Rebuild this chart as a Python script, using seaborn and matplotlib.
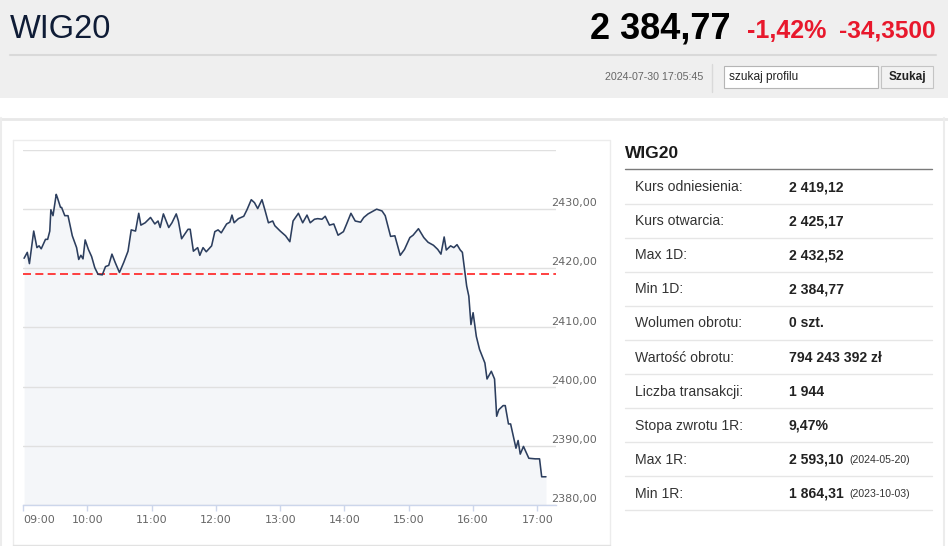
import matplotlib
matplotlib.use("Agg")
import matplotlib.pyplot as plt
import matplotlib.transforms as mtransforms
from matplotlib.patches import Rectangle
import pandas as pd
import seaborn as sns

# intraday WIG20 quotes
times = [
    "09:01", "09:04", "09:06", "09:10", "09:13", "09:15", "09:17", "09:21", "09:23", "09:25",
    "09:26", "09:28", "09:31", "09:32", "09:35", "09:36", "09:39", "09:42", "09:46", "09:50",
    "09:52", "09:54", "09:56", "09:58", "10:01", "10:04", "10:07", "10:10", "10:14", "10:17",
    "10:20", "10:23", "10:26", "10:30", "10:34", "10:38", "10:41", "10:45", "10:48", "10:50",
    "10:54", "10:59", "11:03", "11:06", "11:08", "11:11", "11:16", "11:19", "11:23", "11:25",
    "11:28", "11:34", "11:36", "11:39", "11:41", "11:43", "11:45", "11:48", "11:51", "11:56",
    "11:59", "12:02", "12:05", "12:10", "12:13", "12:15", "12:17", "12:21", "12:26", "12:29",
    "12:33", "12:36", "12:39", "12:43", "12:46", "12:49", "12:53", "12:55", "13:00", "13:05",
    "13:09", "13:12", "13:17", "13:21", "13:25", "13:28", "13:32", "13:35", "13:39", "13:42",
    "13:46", "13:50", "13:54", "13:59", "14:02", "14:06", "14:10", "14:15", "14:18", "14:22",
    "14:30", "14:35", "14:38", "14:43", "14:47", "14:52", "14:56", "15:01", "15:04", "15:09",
    "15:14", "15:18", "15:23", "15:27", "15:30", "15:33", "15:35", "15:39", "15:42", "15:45",
    "15:48", "15:50", "15:52", "15:54", "15:56", "15:58", "16:00", "16:03", "16:06", "16:11",
    "16:13", "16:17", "16:20", "16:22", "16:24", "16:28", "16:30", "16:33", "16:35", "16:40",
    "16:42", "16:44", "16:47", "16:52", "16:58", "17:02", "17:04", "17:08",
]
kurs = [
    2421.7, 2422.7, 2420.8, 2426.3, 2423.5, 2423.8, 2423.3, 2424.9, 2424.9, 2426.3,
    2429.9, 2428.9, 2432.5, 2432.0, 2430.3, 2430.3, 2428.9, 2428.9, 2425.5, 2423.5,
    2421.5, 2422.2, 2421.6, 2424.8, 2423.2, 2422.0, 2420.1, 2419.0, 2418.9, 2420.3,
    2420.5, 2422.4, 2421.0, 2419.3, 2421.0, 2422.9, 2426.5, 2426.3, 2429.3, 2427.3,
    2427.7, 2428.6, 2427.5, 2428.0, 2426.9, 2429.2, 2426.9, 2427.7, 2429.2, 2428.0,
    2425.0, 2426.6, 2426.6, 2422.9, 2423.2, 2423.5, 2422.2, 2423.5, 2422.8, 2423.8,
    2426.2, 2426.5, 2426.0, 2427.5, 2427.8, 2429.0, 2427.7, 2428.4, 2428.8, 2429.9,
    2431.6, 2431.1, 2430.1, 2431.6, 2429.7, 2427.7, 2428.0, 2427.2, 2426.3, 2425.5,
    2424.5, 2428.0, 2429.3, 2427.7, 2429.0, 2427.7, 2428.3, 2428.4, 2428.3, 2428.8,
    2427.3, 2427.5, 2425.6, 2426.2, 2427.5, 2429.3, 2428.0, 2427.8, 2428.6, 2429.2,
    2430.0, 2429.7, 2428.9, 2425.4, 2425.5, 2422.2, 2423.2, 2425.2, 2425.6, 2426.7,
    2425.2, 2424.4, 2423.9, 2423.2, 2422.4, 2425.3, 2423.1, 2423.8, 2423.5, 2424.0,
    2423.1, 2422.7, 2419.8, 2417.0, 2415.3, 2410.5, 2412.5, 2408.5, 2406.3, 2404.0,
    2401.3, 2402.6, 2401.3, 2395.0, 2396.1, 2396.8, 2396.8, 2393.7, 2393.7, 2389.6,
    2390.9, 2388.6, 2389.9, 2387.9, 2387.8, 2387.8, 2384.77, 2384.77,
]
kurs_odniesienia = 2419.12

hour_labels = ["09:00", "10:00", "11:00", "12:00", "13:00", "14:00", "15:00", "16:00", "17:00"]
y_ticks = [2380, 2390, 2400, 2410, 2420, 2430, 2440]
y_labelled = [2380, 2390, 2400, 2410, 2420, 2430]

# header
name = "WIG20"
last_price = "2 384,77"
change_pct = "-1,42%"
change_abs = "-34,3500"
timestamp = "2024-07-30 17:05:45"

# side table
row_labels = ["Kurs odniesienia:", "Kurs otwarcia:", "Max 1D:", "Min 1D:", "Wolumen obrotu:",
              "Wartość obrotu:", "Liczba transakcji:", "Stopa zwrotu 1R:", "Max 1R:", "Min 1R:"]
row_values = ["2 419,12", "2 425,17", "2 432,52", "2 384,77", "0 szt.",
              "794 243 392 zł", "1 944", "9,47%", "2 593,10", "1 864,31"]
row_notes = ["", "", "", "", "", "", "", "", "(2024-05-20)", "(2023-10-03)"]


def to_minutes(hhmm):
    h, m = hhmm.split(":")
    return (int(h) - 9) * 60 + int(m)


df = pd.DataFrame({"t": [to_minutes(t) for t in times], "kurs": kurs})

sns.set_theme(style="white")
plt.rcParams["font.family"] = ["Liberation Sans", "DejaVu Sans"]

W, H = 948, 546
fig = plt.figure(figsize=(W / 100, H / 100), dpi=100)
fig.patch.set_facecolor("white")

# page decoration in pixel coordinates
bg = fig.add_axes([0, 0, 1, 1], zorder=0)
bg.set_xlim(0, W)
bg.set_ylim(H, 0)
bg.axis("off")

bg.add_patch(Rectangle((0, 0), W, 98, color="#efefef", lw=0))
bg.plot([10, 936], [55, 55], color="#d9d9d9", lw=1.5)
bg.plot([712, 712], [64, 92], color="#d9d9d9", lw=1)

bg.text(10, 29, name, fontsize=23.5, color="#0f1c36", va="center", ha="left")
bg.text(936, 31, change_abs, fontsize=17.6, fontweight="bold", color="#e8182c",
        va="center", ha="right")
bg.text(826, 31, change_pct, fontsize=18, fontweight="bold", color="#e8182c",
        va="center", ha="right")
bg.text(731, 29, last_price, fontsize=26, fontweight="bold", color="#000000",
        va="center", ha="right")
bg.text(703, 77, timestamp, fontsize=7.7, color="#666666", va="center", ha="right")

bg.add_patch(Rectangle((724, 66), 154, 22, facecolor="white", edgecolor="#b5b5b5", lw=0.8))
bg.text(729, 77, "szukaj profilu", fontsize=8.6, color="#222222", va="center", ha="left")
bg.add_patch(Rectangle((881, 66), 52, 22, facecolor="#f2f2f2", edgecolor="#c4c4c4", lw=0.8))
bg.text(907, 77, "Szukaj", fontsize=8.5, fontweight="bold", color="#222222",
        va="center", ha="center")

# outer container and chart box
bg.plot([0, W], [118.5, 118.5], color="#e8e8e8", lw=2)
bg.plot([1, 1], [118, H], color="#ececec", lw=1.5)
bg.plot([944, 944], [118, H], color="#ececec", lw=1.5)
bg.plot([13, 610, 610], [140, 140, 545], color="#ececec", lw=1)
bg.plot([13, 13], [140, 545], color="#ececec", lw=1)
bg.plot([13, 610], [545, 545], color="#e2e2e2", lw=1)

# side table
bg.text(625, 153, name, fontsize=12.5, fontweight="bold", color="#1a1a1a",
        va="center", ha="left")
bg.plot([625, 932], [169, 169], color="#7a7a7a", lw=1)
row_h = 34.1
for i, (lab, val, note) in enumerate(zip(row_labels, row_values, row_notes)):
    yc = 187 + i * row_h
    bg.text(635, yc, lab, fontsize=10.1, color="#333333", va="center", ha="left")
    t = bg.text(789, yc, val, fontsize=10.1, fontweight="bold", color="#222222",
                va="center", ha="left")
    if note:
        bg.annotate(note, xy=(1, 0.5), xycoords=t, xytext=(4, 0), textcoords="offset points",
                    fontsize=7.6, color="#333333", va="center", ha="left")
    bg.plot([625, 932], [yc + 16.5, yc + 16.5], color="#e6e6e6", lw=1)

# chart
x0, x1, y0, y1 = 23, 556, 150, 505
ax = fig.add_axes([x0 / W, 1 - y1 / H, (x1 - x0) / W, (y1 - y0) / H], zorder=1)
ax.patch.set_visible(False)
ax.set_axisbelow(False)

ax.fill_between(df["t"], df["kurs"], y_ticks[0], color="#f4f6f9", lw=0, zorder=1)
ax.set_yticks(y_ticks)
ax.grid(axis="y", color="#e0e0e0", lw=1)
ax.grid(axis="x", visible=False)
ax.axhline(kurs_odniesienia, color="#ff2020", lw=1.2, ls=(0, (4.8, 2.6)), zorder=3)
sns.lineplot(data=df, x="t", y="kurs", ax=ax, color="#2c3e5e", lw=1.15, zorder=4)

ax.set_xlim(0, (x1 - x0) * 60 / 64.3)
ax.set_ylim(y_ticks[0], y_ticks[-1])
ax.set_xlabel("")
ax.set_ylabel("")
ax.set_xticks([60 * i for i in range(len(hour_labels))])
ax.set_xticklabels(hour_labels)
ax.tick_params(axis="x", direction="out", length=4.5, width=1, color="#ccd6eb",
               labelsize=8, labelcolor="#666666", pad=2.5, bottom=True)
for lab in ax.get_xticklabels():
    lab.set_fontfamily("DejaVu Sans")
ax.xaxis.get_major_ticks()[0].label1.set_horizontalalignment("left")
ax.tick_params(axis="y", left=False, right=False, labelleft=False, labelright=False)
for side in ["left", "right", "top"]:
    ax.spines[side].set_visible(False)
ax.spines["bottom"].set_color("#ccd6eb")
ax.spines["bottom"].set_linewidth(1)
ax.spines["bottom"].set_zorder(2.6)

trans = mtransforms.blended_transform_factory(ax.transAxes, ax.transData)
for v in y_labelled:
    ax.text((551 - x0) / (x1 - x0), v + 1.0, f"{v:.2f}".replace(".", ","), transform=trans,
            fontsize=8, color="#666666", family="DejaVu Sans", va="center", ha="left")

fig.savefig("out.png", dpi=100)
